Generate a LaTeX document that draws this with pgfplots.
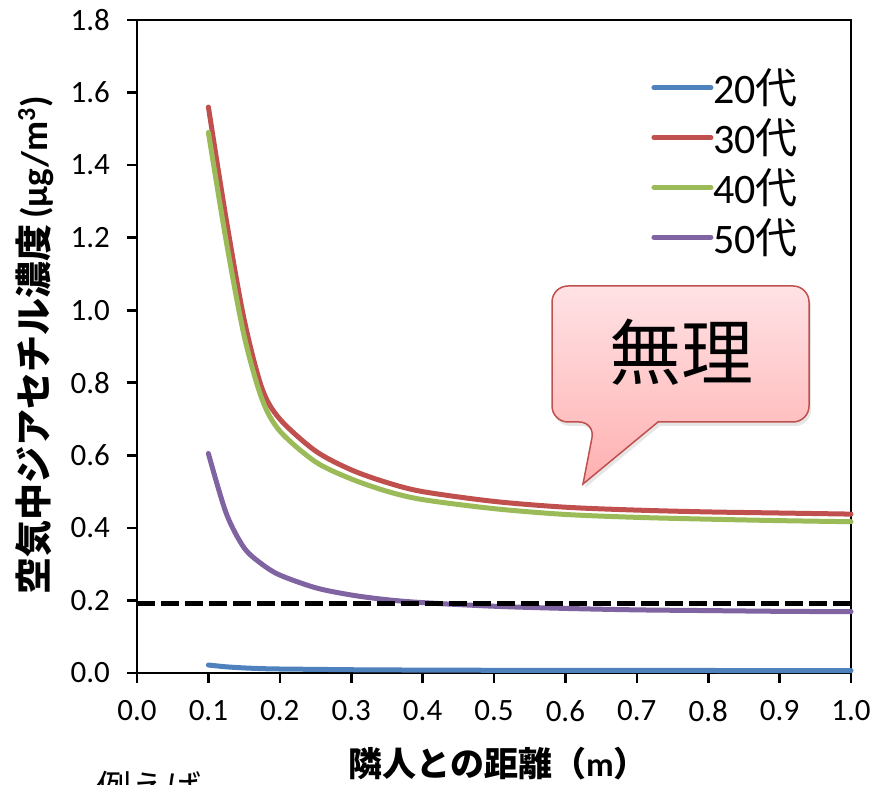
\documentclass[border=0pt]{standalone}
\usepackage{fontspec}
\setmainfont{Carlito}
\newfontfamily\jp{Noto Sans CJK JP}
\usepackage{pgfplots}
\pgfplotsset{compat=1.18}
\usetikzlibrary{shadows}

\definecolor{s20}{HTML}{4F81BD}
\definecolor{s30}{HTML}{C0504D}
\definecolor{s40}{HTML}{9BBB59}
\definecolor{s50}{HTML}{8064A2}
\definecolor{balloonTop}{HTML}{FFE2E5}
\definecolor{balloonBot}{HTML}{FFB0B0}
\definecolor{balloonEdge}{HTML}{C0504D}

\begin{document}
\begin{tikzpicture}
\useasboundingbox (-68.5pt,-56pt) rectangle (375pt,336.5pt);
\begin{axis}[
  at={(0pt,0pt)}, anchor=south west,
  scale only axis, width=357pt, height=326.5pt,
  xmin=0, xmax=1, ymin=0, ymax=1.8,
  xtick={0,0.1,0.2,0.3,0.4,0.5,0.6,0.7,0.8,0.9,1.0},
  ytick={0,0.2,0.4,0.6,0.8,1.0,1.2,1.4,1.6,1.8},
  tick pos=left, tick align=outside, major tick length=5pt,
  axis line style={line width=1.3pt},
  every tick/.style={black, line width=1.3pt},
  clip=false,
  ticklabel style={font=\fontsize{15.5}{18}\selectfont},
  yticklabel style={xshift=-5pt},
  xticklabel style={yshift=-5pt},
  legend style={draw=none, fill=none, at={(0.7199,0.926)}, anchor=north west,
    font=\fontsize{21}{25}\selectfont, row sep=6pt, inner sep=0pt,
    nodes={inner sep=0pt}},
  /tikz/every odd column/.append style={column sep=0pt},
  legend image code/.code={\draw[#1, line width=2.5pt, line cap=round] (0pt,0pt) -- (28.5pt,0pt);},
  every axis plot/.append style={line width=2.5pt, line cap=round, line join=round},
  /pgf/number format/.cd, fixed, fixed zerofill, precision=1, assume math mode=true,
]
% 20代
\addplot[s20, smooth] coordinates {
 (0.1,0.022) (0.125,0.017) (0.15,0.014) (0.175,0.012) (0.2,0.011) (0.25,0.010)
 (0.3,0.009) (0.35,0.0085) (0.4,0.008) (0.5,0.0075) (0.6,0.0072) (0.7,0.0070)
 (0.8,0.0069) (0.9,0.0068) (1.0,0.0067)};
\addlegendentry{20{\jp 代}}
% 30代
\addplot[s30, smooth] coordinates {
 (0.1,1.56) (0.125,1.25) (0.15,0.975) (0.175,0.785) (0.2,0.70) (0.25,0.612)
 (0.3,0.56) (0.35,0.525) (0.4,0.50) (0.5,0.473) (0.6,0.457) (0.7,0.449)
 (0.8,0.444) (0.9,0.441) (1.0,0.438)};
\addlegendentry{30{\jp 代}}
% 40代
\addplot[s40, smooth] coordinates {
 (0.1,1.49) (0.125,1.19) (0.15,0.93) (0.175,0.755) (0.2,0.667) (0.25,0.582)
 (0.3,0.535) (0.35,0.501) (0.4,0.478) (0.5,0.453) (0.6,0.437) (0.7,0.429)
 (0.8,0.424) (0.9,0.420) (1.0,0.417)};
\addlegendentry{40{\jp 代}}
% 50代
\addplot[s50, smooth] coordinates {
 (0.1,0.605) (0.125,0.44) (0.15,0.345) (0.175,0.30) (0.2,0.27) (0.25,0.235)
 (0.3,0.215) (0.35,0.202) (0.4,0.194) (0.5,0.184) (0.6,0.178) (0.7,0.174)
 (0.8,0.172) (0.9,0.170) (1.0,0.169)};
\addlegendentry{50{\jp 代}}
% 基準値
\addplot[black, dash pattern=on 9pt off 3pt, line cap=butt, forget plot] coordinates {(0,0.192) (1,0.192)};
\end{axis}

% 吹き出し
\path[draw=balloonEdge, line width=0.75pt, top color=balloonTop, bottom color=balloonBot,
      drop shadow={opacity=0.2, shadow xshift=1pt, shadow yshift=-2pt}]
  (270pt,193.5pt) [rounded corners=8pt] -- (207.5pt,193.5pt) -- (207.5pt,125.5pt)
  -- (229pt,125.5pt) [sharp corners] -- (223pt,94.5pt) -- (260.5pt,125.5pt)
  [rounded corners=8pt] -- (336pt,125.5pt) -- (336pt,193.5pt) -- cycle;
\node[font=\jp\fontsize{36}{40}\selectfont, inner sep=0pt] at (272.3pt,160.25pt) {無理};

% 軸ラベル
\node[rotate=90, font=\fontsize{18.5}{22}\selectfont\bfseries, inner sep=0pt]
  at (-51pt,164pt) {{\jp 空気中ジアセチル濃度}\,(μg/m\textsuperscript{3})};
\node[font=\fontsize{17}{20}\selectfont\bfseries, inner sep=0pt]
  at (180.5pt,-45.5pt) {{\jp 隣人との距離（}m{\jp ）}};
\node[font=\jp\fontsize{17.5}{20}\selectfont, anchor=base, inner sep=0pt]
  at (6.25pt,-63.5pt) {例えば};
\end{tikzpicture}
\end{document}
